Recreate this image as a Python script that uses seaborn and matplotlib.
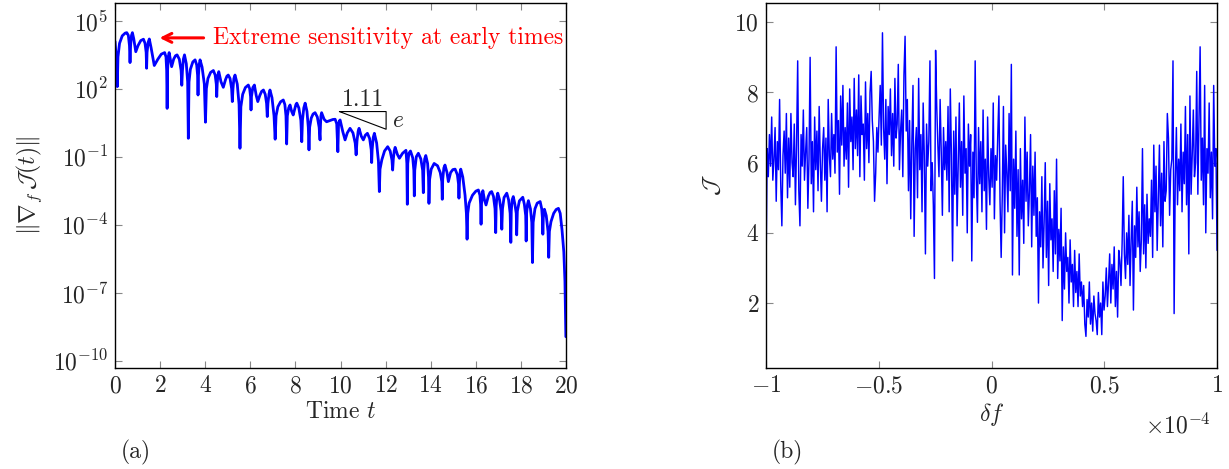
import numpy as np
import pandas as pd
import seaborn as sns
import matplotlib.pyplot as plt
from matplotlib.ticker import FixedLocator, NullLocator

# (a) gradient norm vs time: time and log10 of the norm
grad_t = [
    0.00, 0.05, 0.10, 0.13, 0.20, 0.32, 0.45, 0.52, 0.59, 0.64,
    0.665, 0.69, 0.73, 0.77, 0.83, 0.92, 1.02, 1.14, 1.26, 1.33,
    1.38, 1.40, 1.42, 1.47, 1.52, 1.60, 1.74, 1.90, 2.05, 2.20,
    2.26, 2.29, 2.31, 2.33, 2.36, 2.40, 2.46, 2.51, 2.60, 2.68,
    2.75, 2.85, 2.93, 2.96, 2.99, 3.03, 3.08, 3.16, 3.22, 3.25,
    3.28, 3.34, 3.45, 3.55, 3.62, 3.66, 3.68, 3.70, 3.73, 3.77,
    3.86, 3.96, 4.01, 4.05, 4.12, 4.24, 4.36, 4.44, 4.49, 4.51,
    4.53, 4.56, 4.60, 4.70, 4.80, 4.90, 4.96, 5.02, 5.10, 5.17,
    5.20, 5.23, 5.27, 5.32, 5.42, 5.50, 5.54, 5.58, 5.66, 5.78,
    5.91, 5.97, 6.01, 6.03, 6.05, 6.11, 6.18, 6.26, 6.33, 6.42,
    6.50, 6.58, 6.66, 6.72, 6.75, 6.78, 6.83, 6.87, 6.96, 7.05,
    7.10, 7.14, 7.22, 7.34, 7.46, 7.53, 7.58, 7.61, 7.64, 7.70,
    7.76, 7.83, 7.90, 7.97, 8.02, 8.06, 8.15, 8.24, 8.28, 8.31,
    8.37, 8.43, 8.51, 8.57, 8.60, 8.63, 8.70, 8.78, 8.87, 8.97,
    9.05, 9.09, 9.11, 9.13, 9.16, 9.27, 9.38, 9.55, 9.66, 9.76,
    9.83, 9.88, 9.91, 9.95, 9.98, 10.10, 10.20, 10.30, 10.42, 10.55,
    10.65, 10.69, 10.73, 10.78, 10.82, 10.92, 11.01, 11.10, 11.19, 11.29,
    11.36, 11.38, 11.40, 11.45, 11.50, 11.60, 11.68, 11.72, 11.75, 11.83,
    11.95, 12.09, 12.20, 12.28, 12.31, 12.34, 12.38, 12.42, 12.52, 12.61,
    12.75, 12.90, 12.94, 12.96, 12.98, 13.03, 13.10, 13.20, 13.25, 13.27,
    13.29, 13.36, 13.45, 13.56, 13.64, 13.67, 13.69, 13.73, 13.78, 13.86,
    13.90, 13.92, 13.95, 14.02, 14.15, 14.30, 14.42, 14.49, 14.51, 14.53,
    14.58, 14.63, 14.72, 14.78, 14.88, 14.98, 15.08, 15.18, 15.23, 15.25,
    15.27, 15.30, 15.33, 15.42, 15.52, 15.58, 15.61, 15.64, 15.70, 15.85,
    16.00, 16.11, 16.18, 16.21, 16.23, 16.25, 16.28, 16.31, 16.38, 16.45,
    16.55, 16.63, 16.70, 16.78, 16.85, 16.88, 16.90, 16.93, 16.97, 17.05,
    17.12, 17.15, 17.18, 17.25, 17.37, 17.45, 17.52, 17.55, 17.57, 17.61,
    17.66, 17.73, 17.79, 17.81, 17.84, 17.93, 18.08, 18.15, 18.21, 18.23,
    18.25, 18.29, 18.33, 18.42, 18.48, 18.51, 18.54, 18.62, 18.72, 18.85,
    18.92, 18.95, 18.97, 18.99, 19.02, 19.04, 19.12, 19.20, 19.23, 19.26,
    19.33, 19.45, 19.56, 19.66, 19.74, 19.82, 19.90, 19.95, 19.99,
]
grad_log10 = [
    4.08, 3.4, 2.09, 3.4, 4.0, 4.33, 4.45, 4.47, 4.35, 3.9,
    3.15, 3.9, 4.35, 4.47, 4.2, 3.63, 3.9, 4.12, 4.18, 4.0,
    3.6, 2.90, 3.6, 4.05, 4.19, 3.8, 3.02, 3.30, 3.52, 3.59,
    3.4, 2.8, 1.13, 2.8, 3.4, 3.59, 3.25, 2.97, 3.3, 3.45,
    3.49, 3.3, 2.8, 2.15, 2.8, 3.3, 3.49, 3.1, 2.3, -0.19,
    2.3, 2.85, 3.18, 3.27, 3.05, 2.6, 1.72, 2.6, 3.05, 3.27,
    2.95, 2.2, 0.52, 2.0, 2.45, 2.72, 2.80, 2.6, 2.2, 1.65,
    2.2, 2.6, 2.75, 2.30, 2.06, 2.40, 2.55, 2.60, 2.45, 2.0,
    1.43, 2.0, 2.45, 2.60, 2.2, 1.3, -0.63, 1.2, 1.75, 2.05,
    2.16, 2.0, 1.65, 1.06, 1.65, 2.05, 2.16, 1.70, 1.43, 1.70,
    1.88, 1.94, 1.75, 1.35, 0.77, 1.35, 1.78, 1.94, 1.6, 0.8,
    -0.23, 0.8, 1.2, 1.42, 1.50, 1.3, 0.8, -0.44, 0.8, 1.15,
    1.28, 1.00, 0.84, 1.10, 1.30, 1.36, 1.15, 0.6, -0.34, 0.6,
    1.15, 1.36, 1.0, 0.3, -0.70, 0.3, 0.7, 0.88, 0.94, 0.75,
    0.3, -0.26, 0.4, 0.8, 0.94, 0.65, 0.54, 0.60, 0.64, 0.65,
    0.45, -0.78, 0.40, 0.58, 0.62, 0.10, -0.26, 0.05, 0.25, 0.05,
    -0.40, -0.92, -0.30, 0.12, 0.25, -0.10, -0.26, -0.05, 0.03, -0.2,
    -0.70, -1.26, -0.70, -0.15, 0.03, -0.40, -1.20, -2.54, -1.55, -1.14,
    -0.75, -0.56, -0.75, -1.15, -1.59, -1.10, -0.75, -0.59, -0.90, -1.07,
    -0.85, -0.72, -1.30, -3.10, -1.30, -0.85, -0.75, -1.05, -1.6, -2.73,
    -1.6, -1.0, -0.85, -1.1, -1.6, -2.59, -1.6, -1.10, -0.95, -1.30,
    -1.9, -3.06, -2.0, -1.55, -1.30, -1.40, -1.70, -2.10, -2.88, -2.00,
    -1.50, -1.37, -1.70, -2.10, -1.70, -1.57, -1.55, -1.80, -2.20, -2.83,
    -2.20, -1.70, -1.55, -1.90, -2.70, -3.50, -4.64, -3.50, -3.05, -2.70,
    -2.52, -2.47, -2.70, -3.10, -3.98, -3.10, -2.70, -2.50, -2.90, -3.13,
    -2.75, -2.58, -2.54, -2.75, -3.30, -4.35, -3.20, -2.80, -2.61, -2.90,
    -3.40, -4.20, -3.30, -2.80, -2.61, -2.90, -3.50, -4.78, -3.40, -2.90,
    -2.76, -3.10, -3.50, -4.45, -3.40, -2.95, -2.79, -3.10, -3.60, -4.72,
    -3.50, -3.10, -2.94, -3.30, -3.90, -5.67, -3.90, -3.30, -3.05, -2.98,
    -3.30, -3.70, -4.42, -3.70, -3.40, -3.32, -3.60, -4.30, -5.44, -4.30,
    -3.87, -3.50, -3.33, -3.28, -3.50, -4.23, -5.20, -6.50, -8.94,
]

# (b) objective J vs perturbation delta f (x axis in units of 1e-4)
df_range = (-1.0, 1.0)
J_vals = [
    2.9, 6.4, 5.6, 6.8, 5.9, 7.3, 5.5, 6.1, 7.0, 4.9, 6.6, 5.8, 7.8, 5.4, 4.2, 6.2, 6.9, 5.7, 7.4, 5.0,
    6.7, 5.3, 7.4, 6.0, 5.6, 7.1, 4.8, 6.5, 8.9, 5.2, 4.2, 6.8, 5.9, 7.5, 5.5, 6.3, 7.0, 4.7, 6.1, 9.0,
    5.4, 6.6, 4.6, 7.3, 5.8, 6.9, 5.2, 7.6, 6.0, 4.9, 6.4, 7.0, 5.5, 6.7, 4.6, 7.8, 6.2, 5.6, 7.4, 6.1,
    6.8, 5.7, 9.3, 6.3, 7.2, 5.1, 7.9, 6.5, 8.2, 5.9, 7.0, 6.1, 7.7, 5.3, 8.1, 6.6, 7.3, 5.8, 8.4, 6.4,
    7.5, 6.2, 8.5, 5.6, 7.9, 6.8, 7.1, 5.5, 8.3, 6.4, 7.4, 6.0, 8.0, 8.6, 7.2, 6.6, 4.9, 5.7, 7.0, 6.3,
    7.3, 8.2, 6.5, 9.7, 7.0, 6.1, 7.8, 5.4, 7.6, 6.8, 8.1, 6.2, 7.4, 5.9, 8.4, 6.7, 7.1, 8.8, 5.8, 6.9,
    7.5, 5.6, 8.5, 9.6, 6.9, 7.8, 5.2, 7.2, 4.4, 6.6, 8.2, 3.9, 6.4, 7.0, 5.0, 8.4, 5.8, 6.8, 4.6, 7.7,
    6.2, 3.4, 7.1, 5.9, 6.6, 8.9, 5.2, 6.0, 4.8, 2.7, 9.2, 7.6, 6.5, 5.6, 7.8, 6.3, 4.5, 7.0, 5.8, 6.6,
    5.5, 7.6, 4.6, 8.1, 6.2, 3.2, 6.9, 5.1, 7.3, 4.2, 6.0, 7.7, 5.3, 6.6, 4.5, 7.9, 5.7, 6.4, 4.0, 7.1,
    5.9, 6.8, 3.2, 6.3, 5.0, 8.9, 5.6, 4.3, 7.0, 5.4, 6.6, 4.6, 7.5, 5.2, 6.1, 4.1, 7.3, 5.6, 4.8, 6.4,
    5.3, 7.7, 4.4, 6.2, 5.5, 6.8, 7.9, 4.9, 3.3, 5.1, 7.6, 4.0, 6.5, 5.7, 4.6, 7.4, 5.2, 8.8, 2.8, 6.1,
    4.7, 6.9, 3.9, 5.8, 2.8, 6.4, 4.4, 5.5, 3.7, 7.3, 4.9, 6.3, 4.2, 5.2, 6.8, 3.6, 5.9, 4.5, 6.3, 3.9,
    5.0, 2.0, 4.6, 3.6, 5.6, 3.0, 4.3, 6.0, 3.3, 4.9, 2.5, 5.4, 3.8, 4.4, 2.9, 5.2, 3.4, 6.1, 2.7, 4.1,
    3.2, 4.7, 1.5, 3.6, 2.4, 4.0, 2.9, 3.3, 2.0, 3.8, 2.6, 3.1, 1.9, 3.5, 2.3, 2.9, 1.9, 3.4, 2.2, 2.6,
    1.9, 2.5, 1.4, 1.05, 2.1, 1.6, 2.6, 1.4, 2.0, 1.2, 2.2, 1.7, 1.5, 1.1, 2.3, 1.6, 2.0, 1.1, 2.6, 1.8,
    2.2, 3.0, 1.9, 2.6, 3.4, 2.0, 3.1, 2.4, 3.6, 1.9, 2.9, 1.6, 3.5, 3.2, 2.5, 3.7, 5.6, 3.4, 2.7, 4.0,
    3.1, 4.5, 2.5, 3.8, 4.9, 1.8, 4.2, 3.3, 5.3, 3.6, 4.6, 2.9, 3.8, 6.4, 3.4, 4.8, 3.0, 5.1, 3.7, 4.4,
    3.9, 5.5, 3.3, 6.5, 4.6, 5.9, 3.5, 5.0, 6.5, 4.2, 5.7, 3.6, 6.6, 4.9, 5.2, 7.4, 6.7, 4.5, 5.8, 6.1,
    8.9, 1.7, 5.5, 7.0, 4.8, 6.1, 5.2, 7.1, 4.6, 6.3, 5.4, 7.6, 4.8, 6.8, 3.4, 7.9, 5.1, 6.2, 7.5, 5.6,
    6.0, 8.6, 5.1, 7.3, 9.3, 5.5, 6.7, 4.8, 8.2, 4.0, 6.4, 5.7, 7.7, 5.0, 6.3, 4.4, 8.2, 5.9, 6.4, 3.5,
]

sns.set_theme(style='ticks')
plt.rcParams['font.family'] = ['cmr10', 'DejaVu Serif']
plt.rcParams['mathtext.fontset'] = 'cm'
plt.rcParams['axes.formatter.use_mathtext'] = True
plt.rcParams['axes.unicode_minus'] = True

grad = pd.DataFrame({'t': grad_t, 'norm': 10.0 ** np.array(grad_log10)})
sweep = pd.DataFrame({'df': np.linspace(df_range[0], df_range[1], len(J_vals)), 'J': J_vals})

fig = plt.figure(figsize=(12.29, 4.69), dpi=100)
ax1 = fig.add_axes([0.0936, 0.2154, 0.3670, 0.7783])
ax2 = fig.add_axes([0.6233, 0.2154, 0.3670, 0.7783])

FS = 17

# ---- (a)
sns.lineplot(data=grad, x='t', y='norm', ax=ax1, color='#0000ff', lw=2.0,
             estimator=None, sort=False)
ax1.set_yscale('log')
ax1.set_xlim(0, 20)
ax1.set_ylim(10 ** -10.32, 10 ** 5.78)
ax1.yaxis.set_major_locator(FixedLocator([1e-10, 1e-7, 1e-4, 1e-1, 1e2, 1e5]))
ax1.yaxis.set_minor_locator(NullLocator())
ax1.set_xticks(range(0, 21, 2))
ax1.set_xticklabels(['$%d$' % v for v in range(0, 21, 2)])
ax1.set_xlabel('Time $t$', fontsize=FS, labelpad=3)
ax1.set_ylabel(r'$\|\nabla_f\,\mathcal{J}(t)\|$', fontsize=FS, labelpad=6)

ax1.annotate('', xy=(1.85, 10 ** 4.24), xytext=(4.05, 10 ** 4.24),
             arrowprops=dict(arrowstyle='->', color='red', lw=2.2,
                             mutation_scale=16))
ax1.text(4.35, 10 ** 4.24, 'Extreme sensitivity at early times', color='red',
         fontsize=FS, va='center', ha='left')

ax1.plot([9.95, 12.02, 12.02, 9.95], [10 ** 0.99, 10 ** 0.99, 10 ** 0.21, 10 ** 0.99],
         color='black', lw=0.8)
ax1.text(10.98, 10 ** 1.50, '1.11', fontsize=FS, ha='center', va='center')
ax1.text(12.3, 10 ** 0.57, '$e$', fontsize=FS, ha='left', va='center')

# ---- (b)
sns.lineplot(data=sweep, x='df', y='J', ax=ax2, color='#0000ff', lw=1.05,
             estimator=None, sort=False)
ax2.set_xlim(-1, 1)
ax2.set_ylim(0.15, 10.55)
ax2.set_xticks([-1, -0.5, 0, 0.5, 1])
ax2.set_xticklabels(['$-1$', '$-0.5$', '$0$', '$0.5$', '$1$'])
ax2.set_yticks([2, 4, 6, 8, 10])
ax2.set_yticklabels(['$2$', '$4$', '$6$', '$8$', '$10$'])
ax2.set_xlabel(r'$\delta f$', fontsize=FS, labelpad=3)
ax2.set_ylabel(r'$\mathcal{J}$', fontsize=FS, labelpad=8)
ax2.text(0.985, -0.125, r'$\times 10^{-4}$', transform=ax2.transAxes,
         fontsize=FS, ha='right', va='top')

for ax in (ax1, ax2):
    ax.tick_params(direction='in', length=5, width=0.8, color='#888888',
                   labelsize=FS, top=True, right=True, pad=5)
    for s in ax.spines.values():
        s.set_linewidth(1.0)
        s.set_color('black')

fig.text(136 / 1229, 1 - 452 / 469, '(a)', fontsize=FS, ha='center', va='center')
fig.text(787 / 1229, 1 - 452 / 469, '(b)', fontsize=FS, ha='center', va='center')

fig.savefig('out.png', dpi=100)
